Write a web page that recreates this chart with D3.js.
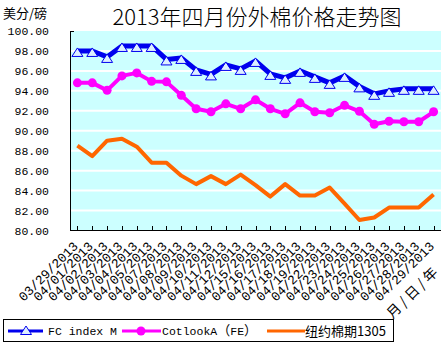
<!DOCTYPE html>
<html><head><meta charset="utf-8">
<script src="https://cdn.jsdelivr.net/npm/d3@7"></script>
<style>
body{margin:0;background:#fff;}
svg{display:block;}
</style></head>
<body>
<svg id="c" width="447" height="343"></svg>
<script>
const dates = ["03/29/2013","04/01/2013","04/02/2013","04/03/2013","04/04/2013","04/05/2013","04/07/2013","04/08/2013","04/09/2013","04/10/2013","04/11/2013","04/12/2013","04/15/2013","04/16/2013","04/17/2013","04/18/2013","04/19/2013","04/22/2013","04/23/2013","04/24/2013","04/25/2013","04/26/2013","04/27/2013","04/28/2013","04/29/2013"];
const fcIndexM = [98.0,98.0,97.4,98.5,98.5,98.5,97.15,97.3,96.1,95.65,96.6,96.2,97.0,95.7,95.3,96.0,95.4,94.8,95.5,94.45,93.7,94.0,94.2,94.2,94.2];
const cotlookA = [94.8,94.8,94.05,95.5,95.8,94.95,94.9,93.55,92.2,91.9,92.7,92.2,93.1,92.2,91.7,92.8,91.9,91.8,92.55,91.95,90.65,90.95,90.9,90.9,91.9];
const nyFutures = [88.5,87.45,89.0,89.2,88.4,86.8,86.8,85.5,84.65,85.45,84.65,85.6,84.55,83.4,84.65,83.5,83.5,84.3,82.7,81.05,81.3,82.3,82.3,82.3,83.6];
const yTicks = [80,82,84,86,88,90,92,94,96,98,100];
const seriesNames = ["FC index M","CotlookA（FE）","纽约棉期1305"];
const title = "2013年四月份外棉价格走势图";
const unitLabel = "美分/磅";
const xAxisTitle = "月/日/年";

const svg = d3.select("#c");
const L = 70, R = 441, T = 31, B = 230.5;
const x = d3.scalePoint().domain(dates).range([L, R]).padding(0.5);
const y = d3.scaleLinear().domain([80, 100]).range([B, T]);

// plot background
svg.append("rect").attr("x", L).attr("y", T).attr("width", R - L).attr("height", B - T).attr("fill", "#ccffff");
// gridlines
svg.append("g").selectAll("line").data(yTicks.filter(v => v > 80 && v < 100)).join("line")
  .attr("x1", L).attr("x2", R).attr("y1", d => y(d)).attr("y2", d => y(d))
  .attr("stroke", "#fff").attr("stroke-width", 2);

// y axis labels
svg.append("g").selectAll("text").data(yTicks).join("text")
  .attr("x", 49).attr("y", d => y(d) + 1)
  .attr("text-anchor", "end").attr("dominant-baseline", "middle")
  .attr("font-family", "Liberation Mono, monospace").attr("font-size", 11.5).attr("fill", "#000")
  .text(d => d.toFixed(2));

// left axis line
svg.append("path").attr("d", `M${L + 4},${T}H${L}V${B}`).attr("stroke", "#000").attr("fill", "none").attr("stroke-width", 1).attr("shape-rendering", "crispEdges");

// bottom axis
const xAxis = d3.axisBottom(x).tickSize(-5).tickSizeOuter(0).tickFormat("");
const gx = svg.append("g").attr("transform", `translate(0,${B})`).call(xAxis);
gx.select(".domain").attr("d", `M${L},0H${R}`).attr("stroke", "#000");
gx.selectAll(".tick line").attr("stroke", "#000");
gx.selectAll("path,line").attr("shape-rendering", "crispEdges");

// x labels
svg.append("g").selectAll("text").data(dates).join("text")
  .attr("transform", d => `translate(${x(d) - 1},${B + 14}) rotate(-45)`)
  .attr("text-anchor", "end").attr("dominant-baseline", "middle")
  .attr("font-family", "Liberation Mono, monospace").attr("font-size", 13).attr("fill", "#000")
  .text(d => d);
svg.append("text")
  .attr("transform", `translate(${R - 3},${B + 38}) rotate(-45)`)
  .attr("text-anchor", "end").attr("dominant-baseline", "middle")
  .attr("font-family", "Noto Sans CJK SC").attr("font-size", 14).attr("letter-spacing", 3)
  .text(xAxisTitle);

// series
const line = d3.line().x((d, i) => x(dates[i])).y(d => y(d));
const triPath = "M0,-4L5.5,4.5L-5.5,4.5Z";
svg.append("path").datum(nyFutures).attr("d", line).attr("fill", "none").attr("stroke", "#ff6600").attr("stroke-width", 4).attr("stroke-linejoin", "round");
svg.append("path").datum(cotlookA).attr("d", line).attr("fill", "none").attr("stroke", "#ff00ff").attr("stroke-width", 4).attr("stroke-linejoin", "round");
svg.append("g").selectAll("circle").data(cotlookA).join("circle")
  .attr("cx", (d, i) => x(dates[i])).attr("cy", d => y(d)).attr("r", 4.5).attr("fill", "#ff00ff");
svg.append("path").datum(fcIndexM).attr("d", line).attr("fill", "none").attr("stroke", "#0000ee").attr("stroke-width", 5).attr("stroke-linejoin", "round");
svg.append("g").selectAll("path").data(fcIndexM).join("path")
  .attr("transform", (d, i) => `translate(${x(dates[i])},${y(d) + 1})`)
  .attr("d", triPath).attr("fill", "#ddeeff").attr("stroke", "#0000ee").attr("stroke-width", 1);

// title
svg.append("text").attr("x", 257).attr("y", 25).attr("text-anchor", "middle")
  .attr("font-family", "Noto Sans CJK SC").attr("font-weight", 300).attr("font-size", 22).attr("fill", "#000")
  .text(title);
svg.append("text").attr("x", 3).attr("y", 18)
  .attr("font-family", "Noto Sans CJK SC").attr("font-size", 13).attr("fill", "#000")
  .text(unitLabel);

// legend
const lg = svg.append("g");
lg.append("rect").attr("x", 3.5).attr("y", 319.5).attr("width", 390).attr("height", 22).attr("fill", "#fff").attr("stroke", "#000");
const ly = 331;
lg.append("line").attr("x1", 8).attr("x2", 43).attr("y1", ly).attr("y2", ly).attr("stroke", "#0000ee").attr("stroke-width", 3);
lg.append("path").attr("transform", `translate(26,${ly - 1})`).attr("d", triPath).attr("fill", "#ddeeff").attr("stroke", "#0000ee");
lg.append("text").attr("x", 48).attr("y", ly + 4).attr("font-family", "Liberation Mono, monospace").attr("font-size", 11.5).text(seriesNames[0]);
lg.append("line").attr("x1", 122).attr("x2", 161).attr("y1", ly).attr("y2", ly).attr("stroke", "#ff00ff").attr("stroke-width", 3);
lg.append("circle").attr("cx", 141).attr("cy", ly).attr("r", 4.5).attr("fill", "#ff00ff");
const t2 = lg.append("text").attr("x", 162).attr("y", ly + 4).attr("font-size", 11.5);
seriesNames[1].split(/([（）])/).filter(s => s.length).forEach(s => {
  const wide = /[（）]/.test(s);
  t2.append("tspan").attr("font-family", wide ? "Noto Sans CJK SC" : "Liberation Mono, monospace")
    .attr("font-size", wide ? 13 : 11.5).text(s);
});
lg.append("line").attr("x1", 267).attr("x2", 305).attr("y1", ly).attr("y2", ly).attr("stroke", "#ff6600").attr("stroke-width", 3);
lg.append("text").attr("x", 305).attr("y", ly + 5).attr("font-family", "Noto Sans CJK SC").attr("font-size", 13).text(seriesNames[2]);
</script>
</body></html>
